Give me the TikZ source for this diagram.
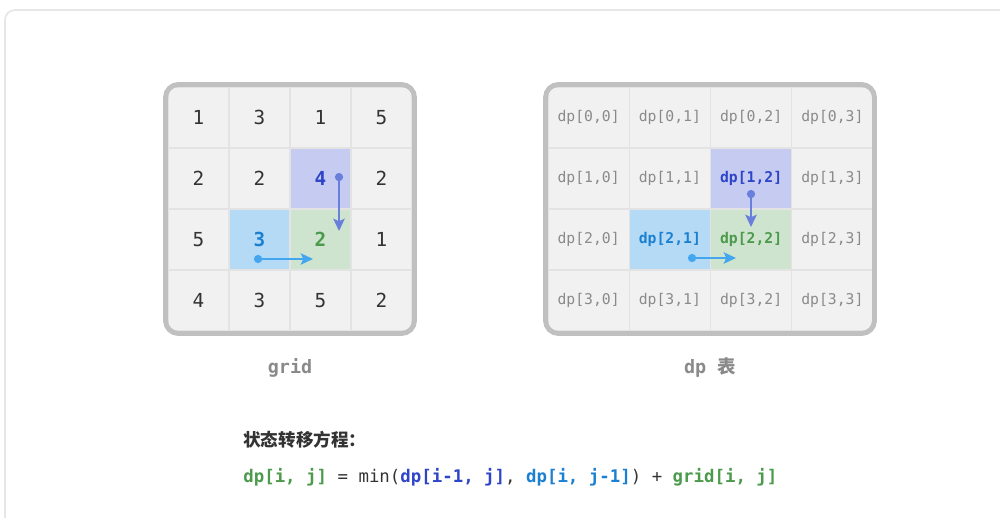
\documentclass[tikz,border=0pt]{standalone}
\usepackage{fontspec}
\setmonofont{DejaVu Sans Mono}
\newfontfamily\cjk{Noto Sans CJK SC}
\usetikzlibrary{arrows.meta, positioning}
\definecolor{Cell_Gray}{HTML}{F1F1F1}
\definecolor{Cell_Line}{HTML}{E3E3E3}
\definecolor{Box_Gray}{HTML}{C0C0C0}
\definecolor{Frame_Gray}{HTML}{E6E6E6}
\definecolor{Text_Dark}{HTML}{333333}
\definecolor{Text_Gray}{HTML}{8A8A8A}
\definecolor{Up_Fill}{HTML}{C6CBF1}
\definecolor{Up_Text}{HTML}{2F45C8}
\definecolor{Up_Arrow}{HTML}{6A7FDC}
\definecolor{Left_Fill}{HTML}{B4DAF6}
\definecolor{Left_Text}{HTML}{1C80D0}
\definecolor{Left_Arrow}{HTML}{44A6EF}
\definecolor{Cur_Fill}{HTML}{CFE4CF}
\definecolor{Cur_Text}{HTML}{4C9A4C}

\begin{document}
\begin{tikzpicture}[
    x=0.02cm, y=-0.02cm,
    gcell/.style={minimum width=1.22cm, minimum height=1.22cm, draw=Cell_Line, line width=0.6pt, fill=Cell_Gray, font=\ttfamily\fontsize{11}{13}\selectfont, text=Text_Dark, anchor=center, inner sep=0pt},
    dcell/.style={gcell, minimum width=1.625cm, font=\ttfamily\fontsize{8.4}{10}\selectfont, text=Text_Gray},
    box/.style={draw=Box_Gray, line width=2.8pt, rounded corners=0.26cm},
    move/.style={line width=1.4pt, {Circle[length=4.6pt]}-{Stealth[length=7pt, width=6.5pt, inset=1.5pt]}},
    caption/.style={font=\ttfamily\bfseries\fontsize{10.5}{12}\selectfont, text=Text_Gray}
]
\useasboundingbox (0,0) rectangle (1000,517);
\draw[Frame_Gray, line width=1pt, rounded corners=0.2cm] (5,10) rectangle (1030,560);

% grid
\begin{scope}
\clip[rounded corners=0.26cm] (165.5,84.5) rectangle (414.5,333.5);
\node[gcell] (g00) at (198.5,117.5) {1};
\node[gcell] (g01) at (259.5,117.5) {3};
\node[gcell] (g02) at (320.5,117.5) {1};
\node[gcell] (g03) at (381.5,117.5) {5};
\node[gcell] (g10) at (198.5,178.5) {2};
\node[gcell] (g11) at (259.5,178.5) {2};
\node[gcell, fill=Up_Fill, text=Up_Text, font=\ttfamily\bfseries\fontsize{11}{13}\selectfont] (g12) at (320.5,178.5) {4};
\node[gcell] (g13) at (381.5,178.5) {2};
\node[gcell] (g20) at (198.5,239.5) {5};
\node[gcell, fill=Left_Fill, text=Left_Text, font=\ttfamily\bfseries\fontsize{11}{13}\selectfont] (g21) at (259.5,239.5) {3};
\node[gcell, fill=Cur_Fill, text=Cur_Text, font=\ttfamily\bfseries\fontsize{11}{13}\selectfont] (g22) at (320.5,239.5) {2};
\node[gcell] (g23) at (381.5,239.5) {1};
\node[gcell] (g30) at (198.5,300.5) {4};
\node[gcell] (g31) at (259.5,300.5) {3};
\node[gcell] (g32) at (320.5,300.5) {5};
\node[gcell] (g33) at (381.5,300.5) {2};
\end{scope}
\draw[box] (165.5,84.5) rectangle (414.5,333.5);
\node[caption] (gridname) at (290,368) {grid};

% dp table
\begin{scope}
\clip[rounded corners=0.26cm] (545.5,84.5) rectangle (874.5,333.5);
\node[dcell] (d00) at (588.6,117.5) {dp[0,0]};
\node[dcell] (d01) at (669.9,117.5) {dp[0,1]};
\node[dcell] (d02) at (751.1,117.5) {dp[0,2]};
\node[dcell] (d03) at (832.4,117.5) {dp[0,3]};
\node[dcell] (d10) at (588.6,178.5) {dp[1,0]};
\node[dcell] (d11) at (669.9,178.5) {dp[1,1]};
\node[dcell, fill=Up_Fill, text=Up_Text, font=\ttfamily\bfseries\fontsize{8.4}{10}\selectfont] (d12) at (751.1,178.5) {dp[1,2]};
\node[dcell] (d13) at (832.4,178.5) {dp[1,3]};
\node[dcell] (d20) at (588.6,239.5) {dp[2,0]};
\node[dcell, fill=Left_Fill, text=Left_Text, font=\ttfamily\bfseries\fontsize{8.4}{10}\selectfont] (d21) at (669.9,239.5) {dp[2,1]};
\node[dcell, fill=Cur_Fill, text=Cur_Text, font=\ttfamily\bfseries\fontsize{8.4}{10}\selectfont] (d22) at (751.1,239.5) {dp[2,2]};
\node[dcell] (d23) at (832.4,239.5) {dp[2,3]};
\node[dcell] (d30) at (588.6,300.5) {dp[3,0]};
\node[dcell] (d31) at (669.9,300.5) {dp[3,1]};
\node[dcell] (d32) at (751.1,300.5) {dp[3,2]};
\node[dcell] (d33) at (832.4,300.5) {dp[3,3]};
\end{scope}
\draw[box] (545.5,84.5) rectangle (874.5,333.5);
\node[caption] (dpname) at (710,368) {dp {\cjk\bfseries 表}};

% arrows
\coordinate (gup) at (339,173);
\coordinate (gupend) at (339,231);
\coordinate (gleft) at (254,259);
\coordinate (gleftend) at (313,259);
\draw[move, Up_Arrow] (gup) -- (gupend);
\draw[move, Left_Arrow] (gleft) -- (gleftend);
\coordinate (dup) at (751,190);
\coordinate (dupend) at (751,227);
\coordinate (dleft) at (688,258);
\coordinate (dleftend) at (736,258);
\draw[move, Up_Arrow] (dup) -- (dupend);
\draw[move, Left_Arrow] (dleft) -- (dleftend);

% equation
\node[anchor=west, inner sep=0pt, text=Text_Dark, font=\cjk\bfseries\fontsize{10}{12}\selectfont] (rule) at (243,440) {状态转移方程：};
\node[anchor=west, inner sep=0pt, text=Text_Dark, font=\ttfamily\fontsize{9.9}{12}\selectfont] (eqn) at (243,477)
    {\textcolor{Cur_Text}{\bfseries dp[i, j]} = min(\textcolor{Up_Text}{\bfseries dp[i-1, j]}, \textcolor{Left_Text}{\bfseries dp[i, j-1]}) + \textcolor{Cur_Text}{\bfseries grid[i, j]}};
\end{tikzpicture}
\end{document}
